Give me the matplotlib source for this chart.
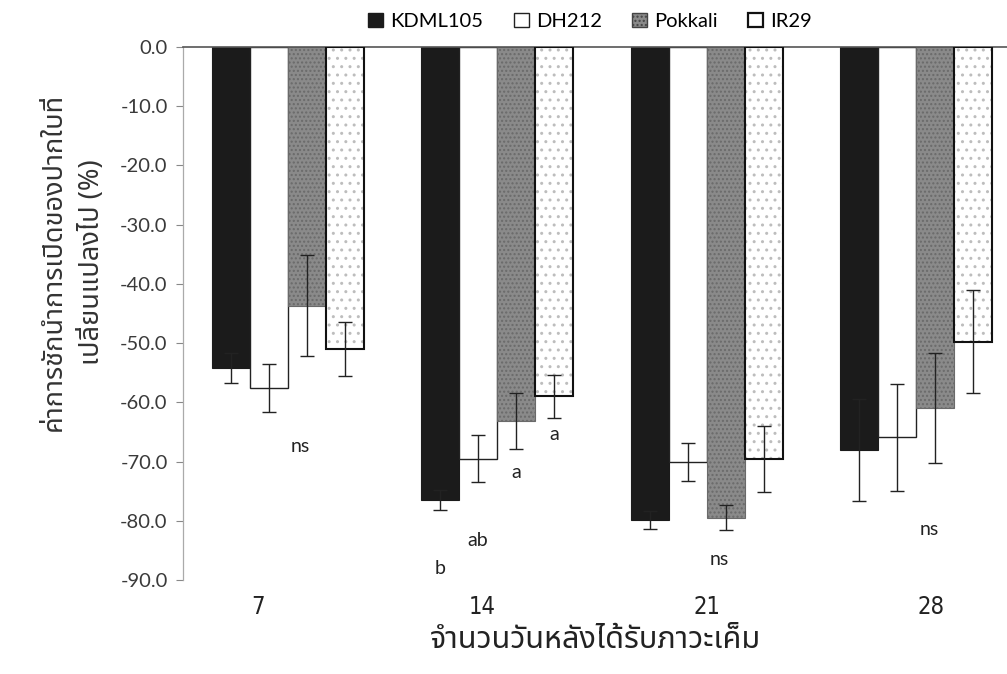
import numpy as np
import matplotlib
matplotlib.use("Agg")
import matplotlib.pyplot as plt
import matplotlib.font_manager as fm
from matplotlib import ft2font
from matplotlib.patches import Patch

# === ข้อมูล ===
days = ["7", "14", "21", "28"]
varieties = ["KDML105", "DH212", "Pokkali", "IR29"]
kdml105 = [-54.2, -76.5, -79.9, -68.0]
dh212 = [-57.6, -69.5, -70.1, -65.9]
pokkali = [-43.7, -63.1, -79.5, -61.0]
ir29 = [-51.0, -59.0, -69.6, -49.8]
kdml105_err = [2.5, 1.7, 1.5, 8.6]
dh212_err = [4.0, 3.9, 3.2, 9.0]
pokkali_err = [8.5, 4.7, 2.1, 9.3]
ir29_err = [4.6, 3.6, 5.6, 8.7]
sig_labels = [["ns"], ["b", "ab", "a", "a"], ["ns"], ["ns"]]
sig_y = [[-67.4], [-88.0, -83.3, -71.8, -65.5], [-86.5], [-81.4]]

ylabel = "ค่าการชักนำการเปิดของปากใบที่\nเปลี่ยนแปลงไป (%)"
xlabel = "จำนวนวันหลังได้รับภาวะเค็ม"


def find_thai_font():
    prefer = ["Noto Sans Thai", "Noto Sans Thai UI", "Loma", "Garuda", "Norasi",
              "Sawasdee", "Kinnari", "Umpush", "Waree", "Laksaman", "Tlwg Typo"]
    names = {f.name for f in fm.fontManager.ttflist}
    for p in prefer:
        if p in names:
            return p
    for f in fm.fontManager.ttflist:
        try:
            cmap = ft2font.FT2Font(f.fname).get_charmap()
        except Exception:
            continue
        if 0x0E08 in cmap and 0x0E31 in cmap:
            return f.name
    return "DejaVu Sans"


THAI = find_thai_font()
font_names = {f.name for f in fm.fontManager.ttflist}
BODY = "Lato" if "Lato" in font_names else "DejaVu Sans"

plt.rcParams["font.family"] = [BODY, THAI, "DejaVu Sans"]

fig = plt.figure(figsize=(10.07, 6.74), dpi=100)
ax = fig.add_axes([183 / 1007, 1 - 580 / 674, (1021 - 183) / 1007, (580 - 47) / 674])

x = np.arange(len(days))
w = 0.1815
series = [kdml105, dh212, pokkali, ir29]
errs = [kdml105_err, dh212_err, pokkali_err, ir29_err]
offsets = (np.arange(4) - 1.5) * w

# KDML105 ดำ
ax.bar(x + offsets[0], kdml105, w, color="#1b1b1b", edgecolor="#1b1b1b", lw=0.8, zorder=2)
# DH212 ขาว
ax.bar(x + offsets[1], dh212, w, color="white", edgecolor="#222222", lw=1.0, zorder=2)
# Pokkali เทา
ax.bar(x + offsets[2], pokkali, w, color="#8a8a8a", edgecolor="#6a6a6a", lw=0.8,
       hatch="....", zorder=2)
# IR29 จุด
ax.bar(x + offsets[3], ir29, w, color="white", edgecolor="#bdbdbd", lw=0,
       hatch="..", zorder=2)
ax.bar(x + offsets[3], ir29, w, color="none", edgecolor="#111111", lw=1.5, zorder=3)

for i in range(4):
    ax.errorbar(x + offsets[i], series[i], yerr=errs[i], fmt="none", ecolor="#222222",
                elinewidth=1.0, capsize=5, capthick=1.0, zorder=4)

# ตัวอักษรแสดงความแตกต่าง
for g in range(4):
    labs = sig_labels[g]
    if len(labs) == 1:
        ax.text(x[g] + 0.06, sig_y[g][0], labs[0], ha="center", va="center",
                fontsize=14, color="#222222")
    else:
        for k, lab in enumerate(labs):
            ax.text(x[g] + offsets[k], sig_y[g][k], lab, ha="center", va="center",
                    fontsize=14, color="#222222")

ax.set_xlim(-0.5, 3.5)
ax.set_ylim(-90, 0)
ax.set_yticks(np.arange(0, -91, -10))
ax.set_yticklabels([f"{v:.1f}" for v in np.arange(0, -91, -10)], fontsize=14.5, color="#3a3a3a")
ax.tick_params(axis="y", length=5, width=0.8, color="#888888", pad=6)

tick_pos = x * 1.071 - 0.143
ax.set_xticks(tick_pos)
ax.set_xticklabels(days, fontsize=17, family="DejaVu Sans", stretch="condensed",
                   color="#222222")
ax.tick_params(axis="x", length=0, pad=11)

ax.spines["bottom"].set_visible(False)
ax.spines["right"].set_visible(False)
ax.spines["top"].set_color("#555555")
ax.spines["top"].set_linewidth(1.2)
ax.spines["left"].set_color("#aaaaaa")
ax.spines["left"].set_linewidth(0.9)

handles = [
    Patch(facecolor="#1b1b1b", edgecolor="#1b1b1b"),
    Patch(facecolor="white", edgecolor="#222222"),
    Patch(facecolor="#8a8a8a", edgecolor="#444444", hatch="...."),
    Patch(facecolor="white", edgecolor="#111111", lw=1.6),
]
fig.legend(handles, varieties, loc="upper center", bbox_to_anchor=(0.586, 1.008), ncol=4,
           frameon=False, fontsize=14.5, handlelength=0.75, handleheight=0.75,
           handletextpad=0.35, columnspacing=1.5)

fig.text(0.072, 1 - 262 / 674, ylabel, rotation=90, ha="center", va="center",
         fontsize=19.5, family=[THAI, "DejaVu Sans"], multialignment="center",
         color="#333333", linespacing=1.5)
fig.text(0.591, 1 - 640 / 674, xlabel, ha="center", va="center", fontsize=22,
         family=[THAI, "DejaVu Sans"], fontweight="bold", color="#222222")

fig.savefig("out.png", dpi=100)
